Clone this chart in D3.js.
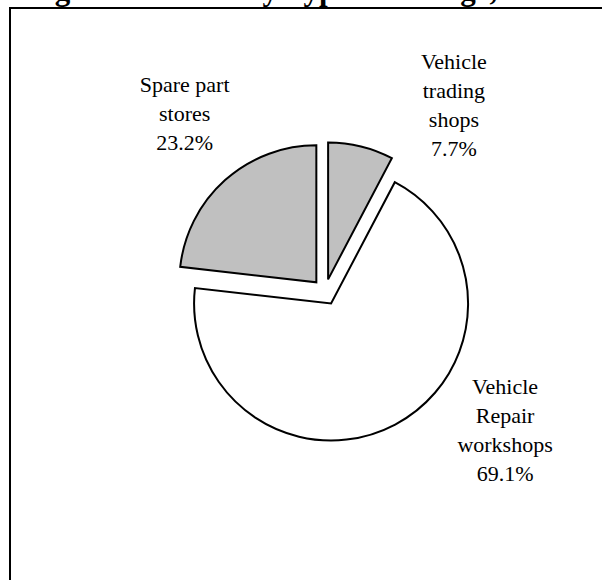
<!DOCTYPE html>
<html>
<head>
<meta charset="utf-8">
<script src="https://cdn.jsdelivr.net/npm/d3@7"></script>
<style>
  body { margin: 0; background: #fff; }
</style>
</head>
<body>
<div class="canvas"></div>
<script>
// data
const categories = ["Vehicle trading shops", "Vehicle Repair workshops", "Spare part stores"];
const labelLines = [["Vehicle", "trading", "shops"], ["Vehicle", "Repair", "workshops"], ["Spare part", "stores"]];
const shares = [7.7, 69.1, 23.2];
const fills = ["#c0c0c0", "#ffffff", "#c0c0c0"];

const serif = "'Liberation Serif', 'Times New Roman', Times, serif";
const width = 602, height = 580;
const svg = d3.select(".canvas").append("svg")
  .attr("width", width).attr("height", height);

// title, mostly cut off at top like the original
svg.append("text")
  .attr("x", 567).attr("y", 0)
  .attr("text-anchor", "end")
  .attr("font-family", serif)
  .attr("font-size", 31)
  .attr("font-weight", "bold")
  .text("Figure 1.4: GCs by Type of Garage, 1999");

// frame
svg.append("rect")
  .attr("x", 10).attr("y", 8)
  .attr("width", 620).attr("height", 600)
  .attr("fill", "none")
  .attr("stroke", "#000")
  .attr("stroke-width", 2);

const cx = 325, cy = 292, radius = 137, explode = 13, labelR = 227;
// label angles tweaked by hand like excel does
const labelAngle = [34.6, 127.5, 321.8];

const pie = d3.pie().sort(null).value(d => d)(shares);
const arc = d3.arc().innerRadius(0).outerRadius(radius);

const g = svg.append("g").attr("transform", `translate(${cx},${cy})`);

g.selectAll("path")
  .data(pie)
  .join("path")
  .attr("d", arc)
  .attr("transform", d => {
    let a = (d.startAngle + d.endAngle) / 2;
    return `translate(${Math.sin(a) * explode},${-Math.cos(a) * explode})`;
  })
  .attr("fill", (d, i) => fills[i])
  .attr("stroke", "#000")
  .attr("stroke-width", 2)
  .attr("stroke-linejoin", "miter");

const lineH = 29;
pie.forEach((d, i) => {
  let a = labelAngle[i] * Math.PI / 180;
  let lx = Math.sin(a) * labelR, ly = -Math.cos(a) * labelR;
  let lines = labelLines[i].concat([shares[i].toFixed(1) + "%"]);
  let top = ly - (lines.length - 1) * lineH / 2 + 7;
  let t = g.append("text")
    .attr("text-anchor", "middle")
    .attr("font-family", serif)
    .attr("font-size", 22);
  lines.forEach((s, k) => {
    t.append("tspan").attr("x", lx).attr("y", top + k * lineH).text(s);
  });
});
</script>
</body>
</html>
